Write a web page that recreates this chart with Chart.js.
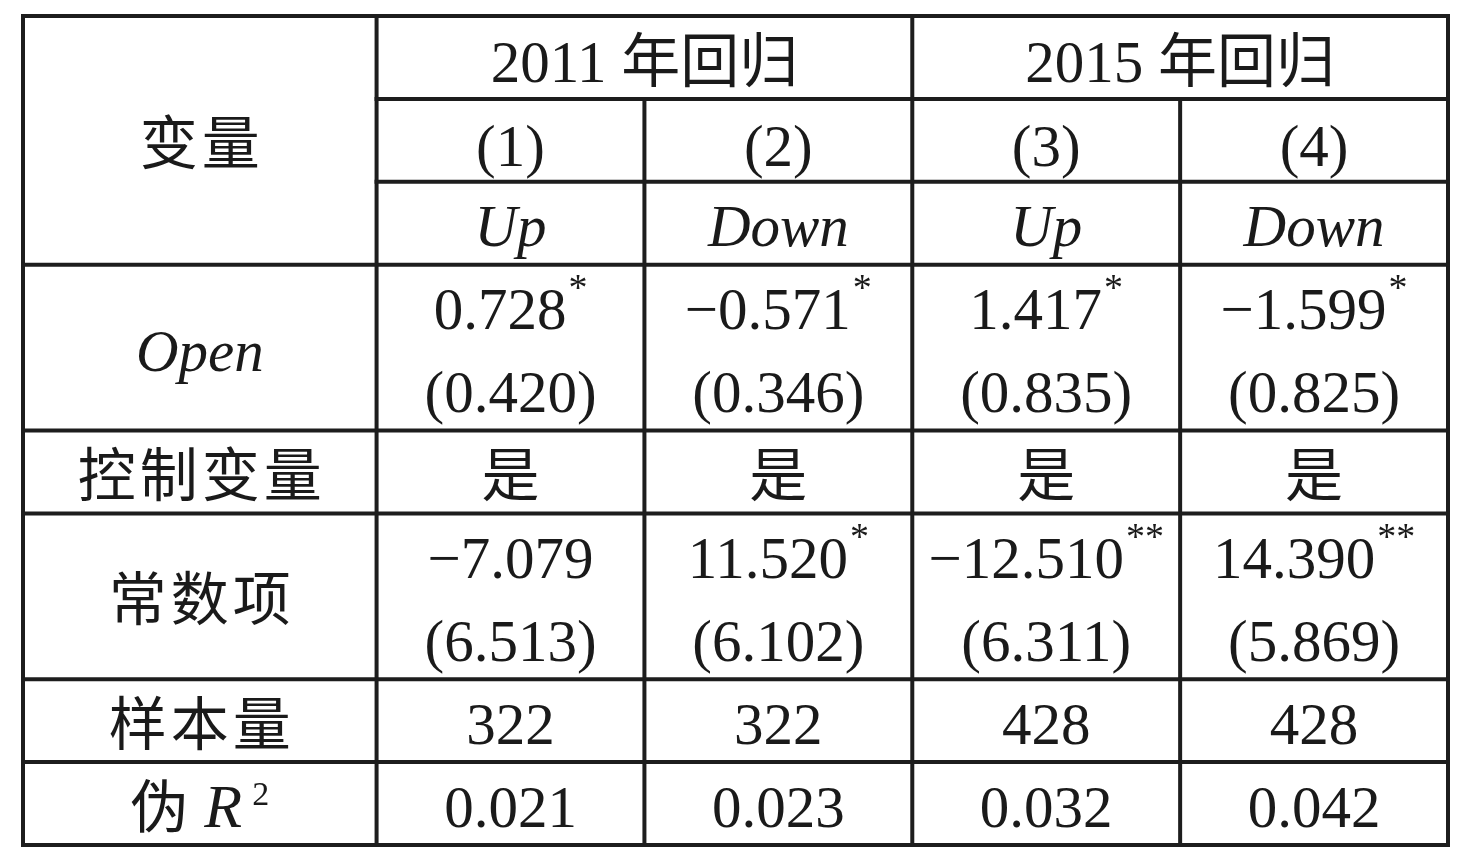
<!DOCTYPE html>
<html>
<head>
<meta charset="utf-8">
<script src="https://cdn.jsdelivr.net/npm/chart.js@4.4.1/dist/chart.umd.min.js"></script>
<style>
  html, body { margin: 0; padding: 0; background: #fff; }
  canvas { display: block; }
</style>
</head>
<body>
<canvas id="tableChart" width="1473" height="860"></canvas>
<script>
// table content
const years = ['2011 年回归', '2015 年回归'];
const models = ['(1)', '(2)', '(3)', '(4)'];
const depVars = ['Up', 'Down', 'Up', 'Down'];
const openCoef = ['0.728', '\u22120.571', '1.417', '\u22121.599'];
const openStars = ['*', '*', '*', '*'];
const openSE = ['(0.420)', '(0.346)', '(0.835)', '(0.825)'];
const controls = ['是', '是', '是', '是'];
const constCoef = ['\u22127.079', '11.520', '\u221212.510', '14.390'];
const constStars = ['', '*', '**', '**'];
const constSE = ['(6.513)', '(6.102)', '(6.311)', '(5.869)'];
const sampleN = ['322', '322', '428', '428'];
const pseudoR2 = ['0.021', '0.023', '0.032', '0.042'];
const rowLabels = ['变量', 'Open', '控制变量', '常数项', '样本量', '伪'];

// table structure: column widths (label column wider), rows counted in text lines
const colWidths = [1.32, 1, 1, 1, 1];
const headLines = 3;
const bodyLines = [2, 1, 2, 1, 1];

const colEdges = [0];
colWidths.forEach(w => colEdges.push(colEdges[colEdges.length - 1] + w));
const rowEdges = [0, 1, 2, headLines];
bodyLines.forEach(n => rowEdges.push(rowEdges[rowEdges.length - 1] + n));
const xMax = colEdges[colEdges.length - 1];
const yMax = rowEdges[rowEdges.length - 1];

// rule segments
let segs = [];
rowEdges.forEach(y => {
  let x0 = (y === 1 || y === 2) ? colEdges[1] : 0;
  segs.push([{x: x0, y: y}, {x: xMax, y: y}]);
});
colEdges.forEach((x, i) => {
  let y0 = (i === 2 || i === 4) ? 1 : 0;
  segs.push([{x: x, y: y0}, {x: x, y: yMax}]);
});

const lineColor = '#1d1d1d';
const textColor = '#1a1a1a';
const serif = "'Liberation Serif', 'Noto Sans CJK SC'";
const cjk = "'Noto Sans CJK SC'";

const cellText = {
  id: 'cellText',
  beforeDraw(chart) {
    const c = chart.ctx;
    c.save();
    c.fillStyle = '#fff';
    c.fillRect(0, 0, chart.width, chart.height);
    c.restore();
  },
  afterDatasetsDraw(chart) {
    const ctx = chart.ctx;
    const xs = chart.scales.x, ys = chart.scales.y;
    const cx = (c0, c1) => (xs.getPixelForValue(colEdges[c0]) + xs.getPixelForValue(colEdges[c1])) / 2;
    const cy = (l0, l1) => (ys.getPixelForValue(l0) + ys.getPixelForValue(l1)) / 2;

    ctx.save();
    ctx.fillStyle = textColor;

    function latin(text, x, y, italic) {
      ctx.font = (italic ? 'italic ' : '') + '59px ' + serif;
      ctx.textAlign = 'center';
      ctx.textBaseline = 'alphabetic';
      ctx.fillText(text, x, y + 23);
    }
    function num(text, star, x, y) {
      ctx.textBaseline = 'alphabetic';
      ctx.textAlign = 'left';
      ctx.font = '59px ' + serif;
      let w = ctx.measureText(text).width;
      ctx.font = '38px ' + serif;
      let sw = star ? ctx.measureText(star).width + 2 : 0;
      let left = x - (w + sw) / 2;
      ctx.font = '59px ' + serif;
      ctx.fillText(text, left, y + 23);
      if (star) {
        ctx.font = '38px ' + serif;
        ctx.fillText(star, left + w + 2, y + 23 - 29);
      }
    }
    function han(text, x, y) {
      ctx.font = '58px ' + cjk;
      ctx.textAlign = 'left';
      ctx.textBaseline = 'middle';
      ctx.letterSpacing = '4px';
      let w = ctx.measureText(text).width - 4;
      ctx.fillText(text, x - w / 2, y + 2);
      ctx.letterSpacing = '0px';
    }

    // header
    years.forEach((t, i) => latin(t, cx(1 + 2 * i, 3 + 2 * i), cy(0, 1) + 2, false));
    models.forEach((t, i) => latin(t, cx(i + 1, i + 2), cy(1, 2) + 3, false));
    depVars.forEach((t, i) => latin(t, cx(i + 1, i + 2), cy(2, 3), true));
    han(rowLabels[0], cx(0, 1), cy(0, 3));

    // body rows
    const r = rowEdges;
    latin(rowLabels[1], cx(0, 1), cy(r[3], r[4]), true);
    han(rowLabels[2], cx(0, 1), cy(r[4], r[5]));
    han(rowLabels[3], cx(0, 1), cy(r[5], r[6]));
    han(rowLabels[4], cx(0, 1), cy(r[6], r[7]));

    for (let i = 0; i < 4; i++) {
      let x = cx(i + 1, i + 2);
      num(openCoef[i], openStars[i], x, cy(r[3], r[3] + 1));
      num(openSE[i], '', x, cy(r[3] + 1, r[4]));
      han(controls[i], x, cy(r[4], r[5]));
      num(constCoef[i], constStars[i], x, cy(r[5], r[5] + 1));
      num(constSE[i], '', x, cy(r[5] + 1, r[6]));
      num(sampleN[i], '', x, cy(r[6], r[7]));
      num(pseudoR2[i], '', x, cy(r[7], r[8]));
    }

    // pseudo R squared label: 伪 R^2
    let yR = cy(r[7], r[8]);
    ctx.font = '58px ' + cjk;
    let w1 = ctx.measureText(rowLabels[5]).width;
    ctx.font = 'italic 62px ' + serif;
    let w2 = ctx.measureText('R').width;
    ctx.font = '34px ' + serif;
    let w3 = ctx.measureText('2').width;
    let gap = 16, gap2 = 10;
    let left = cx(0, 1) - (w1 + gap + w2 + gap2 + w3) / 2;
    ctx.textAlign = 'left';
    ctx.font = '58px ' + cjk;
    ctx.textBaseline = 'middle';
    ctx.fillText(rowLabels[5], left, yR + 2);
    ctx.textBaseline = 'alphabetic';
    ctx.font = 'italic 62px ' + serif;
    ctx.fillText('R', left + w1 + gap, yR + 23);
    ctx.font = '34px ' + serif;
    ctx.fillText('2', left + w1 + gap + w2 + gap2, yR + 23 - 22);

    ctx.restore();
  }
};

const datasets = segs.map(s => ({
  type: 'line',
  data: s,
  borderColor: lineColor,
  borderWidth: 4,
  borderCapStyle: 'square',
  pointRadius: 0,
  fill: false,
  clip: false
}));

new Chart(document.getElementById('tableChart'), {
  type: 'line',
  data: { datasets: datasets },
  options: {
    responsive: false,
    devicePixelRatio: 1,
    animation: false,
    events: [],
    layout: { padding: { left: 23, right: 25, top: 16, bottom: 15 } },
    scales: {
      x: { type: 'linear', min: 0, max: xMax, display: false },
      y: { type: 'linear', min: 0, max: yMax, reverse: true, display: false }
    },
    plugins: {
      legend: { display: false },
      tooltip: { enabled: false }
    }
  },
  plugins: [cellText]
});
</script>
</body>
</html>
